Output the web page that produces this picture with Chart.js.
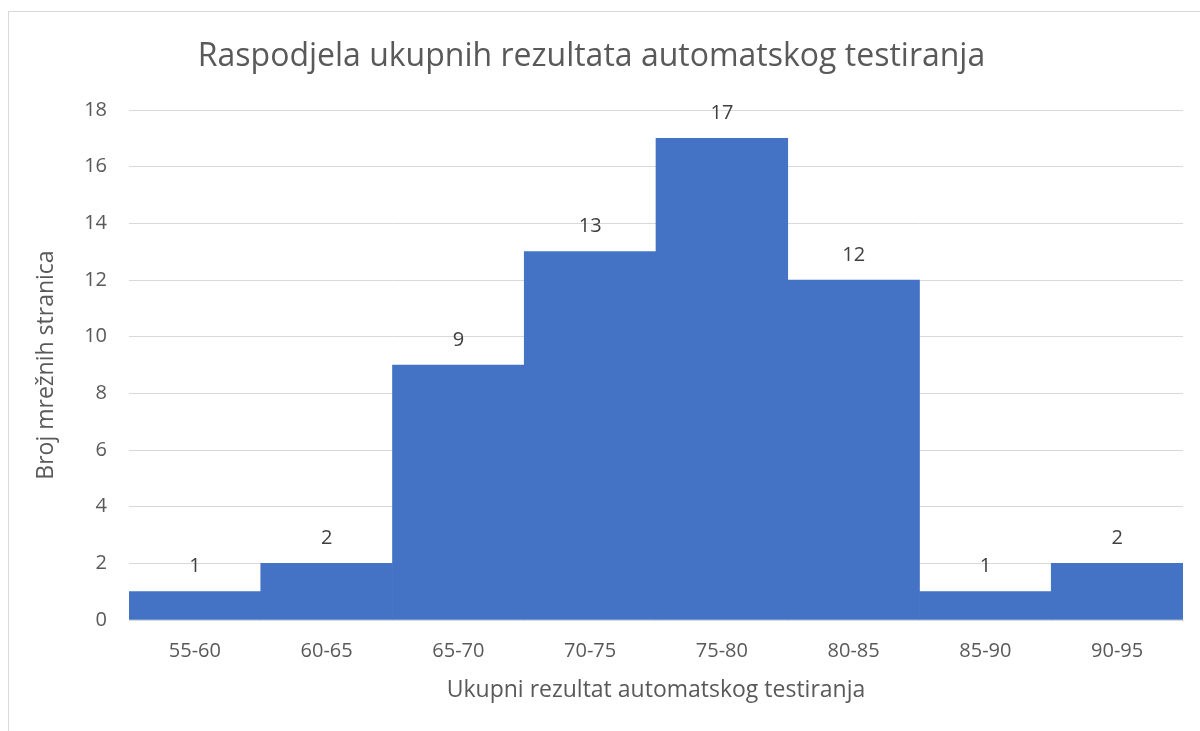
<!DOCTYPE html>
<html>
<head>
<meta charset="utf-8">
<script src="https://cdn.jsdelivr.net/npm/chart.js@4/dist/chart.umd.min.js"></script>
<style>
html,body{margin:0;padding:0;background:#fff;}
#wrap{width:1200px;height:731px;position:relative;}
</style>
</head>
<body>
<div id="wrap"><canvas id="c" width="1200" height="731"></canvas></div>
<script>
const categories = ['55-60','60-65','65-70','70-75','75-80','80-85','85-90','90-95'];
const counts = [1, 2, 9, 13, 17, 12, 1, 2];
const titleText = 'Raspodjela ukupnih rezultata automatskog testiranja';
const xTitle = 'Ukupni rezultat automatskog testiranja';
const yTitle = 'Broj mrežnih stranica';

const FONT = '"Open Sans", Lato, sans-serif';

const frame = {
  id: 'frame',
  beforeDraw(chart) {
    const ctx = chart.ctx;
    ctx.save();
    ctx.fillStyle = '#fff';
    ctx.fillRect(0, 0, chart.width, chart.height);
    ctx.strokeStyle = '#d9d9d9';
    ctx.lineWidth = 1;
    ctx.beginPath();
    ctx.moveTo(8.5, chart.height);
    ctx.lineTo(8.5, 11.5);
    ctx.lineTo(chart.width, 11.5);
    ctx.stroke();
    ctx.restore();
  }
};

const labelsPlugin = {
  id: 'valueLabels',
  afterDatasetsDraw(chart) {
    const ctx = chart.ctx;
    const meta = chart.getDatasetMeta(0);
    ctx.save();
    ctx.font = '20px ' + FONT;
    ctx.fillStyle = '#404040';
    ctx.textAlign = 'center';
    ctx.textBaseline = 'middle';
    meta.data.forEach((bar, i) => {
      ctx.fillText(String(counts[i]), bar.x, bar.y - 25);
    });
    ctx.restore();
  }
};

new Chart(document.getElementById('c'), {
  type: 'bar',
  data: {
    labels: categories,
    datasets: [{
      data: counts,
      backgroundColor: '#4472C4',
      borderWidth: 0,
      barPercentage: 1,
      categoryPercentage: 1
    }]
  },
  options: {
    responsive: false,
    animation: false,
    devicePixelRatio: 1,
    layout: { padding: { left: 0, right: 17, top: 0, bottom: 0 } },
    plugins: {
      legend: { display: false },
      tooltip: { enabled: false },
      title: {
        display: true,
        text: titleText,
        color: '#595959',
        font: { family: FONT, size: 32, weight: 'normal', lineHeight: 1.2 },
        padding: { top: 38, bottom: 33.6 }
      }
    },
    scales: {
      x: {
        grid: { display: false, drawTicks: false },
        border: { display: true, color: '#d9d9d9', width: 1 },
        ticks: { color: '#595959', font: { family: FONT, size: 20 }, padding: 19, maxRotation: 0 },
        title: { display: true, text: xTitle, color: '#595959', font: { family: FONT, size: 23, lineHeight: 1.2 }, padding: { top: 0, bottom: 27 } },
        afterFit(scale) { scale.height = 111; }
      },
      y: {
        min: 0, max: 18,
        grid: { color: '#d9d9d9', lineWidth: 1, drawTicks: false },
        border: { display: false },
        ticks: { stepSize: 2, color: '#595959', font: { family: FONT, size: 20 }, padding: 22 },
        title: { display: true, text: yTitle, color: '#595959', font: { family: FONT, size: 23, lineHeight: 1.2 }, padding: { top: 33, bottom: 0 } },
        afterFit(scale) { scale.width = 129; }
      }
    }
  },
  plugins: [frame, labelsPlugin]
});
</script>
</body>
</html>
